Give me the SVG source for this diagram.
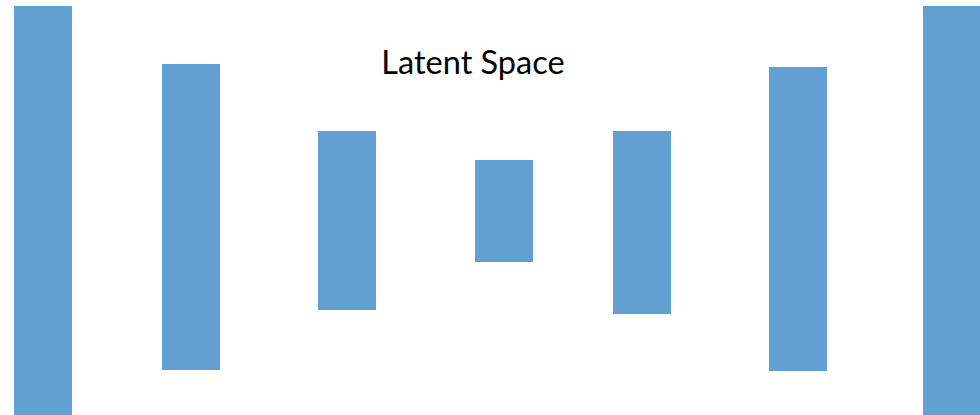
<svg xmlns="http://www.w3.org/2000/svg" width="980" height="415" viewBox="0 0 980 415">
<style>
.bar{fill:#629fd3}
.lbl{font-family:"Lato","Liberation Sans",sans-serif;font-size:32.5px;fill:#000}
</style>
<rect width="980" height="415" fill="#fff"/>
<g id="layer1"><rect class="bar" x="14" y="6" width="58" height="409"/></g>
<g id="layer2"><rect class="bar" x="162" y="64" width="58" height="306"/></g>
<g id="layer3"><rect class="bar" x="318" y="131" width="58" height="179"/></g>
<g id="latent"><rect class="bar" x="475" y="160" width="58" height="102"/></g>
<g id="layer5"><rect class="bar" x="613" y="131" width="58" height="183"/></g>
<g id="layer6"><rect class="bar" x="769" y="67" width="58" height="304"/></g>
<g id="layer7"><rect class="bar" x="923" y="6" width="58" height="409"/></g>
<g id="connectors"></g>
<g id="title"><text class="lbl" x="473" y="74" text-anchor="middle">Latent Space</text></g>
</svg>
